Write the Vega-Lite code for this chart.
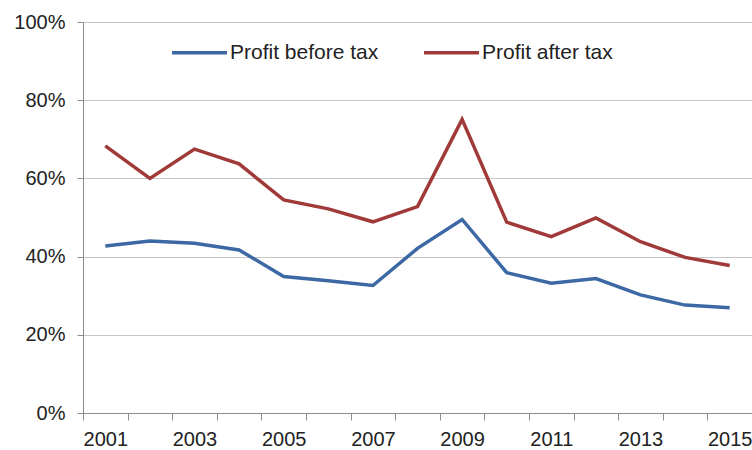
{
  "$schema": "https://vega.github.io/schema/vega-lite/v6.json",
  "width": 669,
  "height": 391,
  "autosize": {"type": "none"},
  "padding": {"left": 83, "top": 22, "right": 0, "bottom": 37},
  "background": "white",
  "config": {"view": {"stroke": null}, "font": "Liberation Sans"},
  "data": {
    "values": [
      {"year": "2001", "series": "Profit before tax", "value": 0.427},
      {"year": "2002", "series": "Profit before tax", "value": 0.440},
      {"year": "2003", "series": "Profit before tax", "value": 0.434},
      {"year": "2004", "series": "Profit before tax", "value": 0.417},
      {"year": "2005", "series": "Profit before tax", "value": 0.349},
      {"year": "2006", "series": "Profit before tax", "value": 0.338},
      {"year": "2007", "series": "Profit before tax", "value": 0.326},
      {"year": "2008", "series": "Profit before tax", "value": 0.421},
      {"year": "2009", "series": "Profit before tax", "value": 0.495},
      {"year": "2010", "series": "Profit before tax", "value": 0.359},
      {"year": "2011", "series": "Profit before tax", "value": 0.332},
      {"year": "2012", "series": "Profit before tax", "value": 0.344},
      {"year": "2013", "series": "Profit before tax", "value": 0.302},
      {"year": "2014", "series": "Profit before tax", "value": 0.276},
      {"year": "2015", "series": "Profit before tax", "value": 0.269},
      {"year": "2001", "series": "Profit after tax", "value": 0.683},
      {"year": "2002", "series": "Profit after tax", "value": 0.600},
      {"year": "2003", "series": "Profit after tax", "value": 0.675},
      {"year": "2004", "series": "Profit after tax", "value": 0.637},
      {"year": "2005", "series": "Profit after tax", "value": 0.545},
      {"year": "2006", "series": "Profit after tax", "value": 0.522},
      {"year": "2007", "series": "Profit after tax", "value": 0.489},
      {"year": "2008", "series": "Profit after tax", "value": 0.528},
      {"year": "2009", "series": "Profit after tax", "value": 0.751},
      {"year": "2010", "series": "Profit after tax", "value": 0.488},
      {"year": "2011", "series": "Profit after tax", "value": 0.451},
      {"year": "2012", "series": "Profit after tax", "value": 0.499},
      {"year": "2013", "series": "Profit after tax", "value": 0.438},
      {"year": "2014", "series": "Profit after tax", "value": 0.398},
      {"year": "2015", "series": "Profit after tax", "value": 0.377}
    ]
  },
  "mark": {"type": "line", "strokeWidth": 3.5},
  "encoding": {
    "x": {
      "field": "year",
      "type": "ordinal",
      "scale": {"type": "band", "paddingInner": 0, "paddingOuter": 0},
      "axis": {
        "title": null,
        "labelAngle": 0,
        "tickBand": "extent",
        "grid": false,
        "labelExpr": "toNumber(datum.value) % 2 == 1 ? datum.label : ''",
        "labelOverlap": false,
        "labelBound": false,
        "domainColor": "#8c8c8c",
        "tickColor": "#8c8c8c",
        "tickSize": 7,
        "labelFontSize": 20,
        "labelColor": "#222222",
        "labelPadding": 9
      }
    },
    "y": {
      "field": "value",
      "type": "quantitative",
      "scale": {"domain": [0, 1]},
      "axis": {
        "title": null,
        "values": [0, 0.2, 0.4, 0.6, 0.8, 1],
        "format": ".0%",
        "gridColor": "#c6c6c6",
        "domainColor": "#8c8c8c",
        "tickColor": "#8c8c8c",
        "tickSize": 6,
        "labelPadding": 12,
        "labelFontSize": 20,
        "labelColor": "#222222"
      }
    },
    "color": {
      "field": "series",
      "type": "nominal",
      "scale": {"domain": ["Profit before tax", "Profit after tax"], "range": ["#3C69A4", "#A03A38"]},
      "legend": {
        "orient": "none",
        "legendX": 87,
        "legendY": 1,
        "direction": "horizontal",
        "title": null,
        "symbolType": "stroke",
        "symbolSize": 3025,
        "symbolStrokeWidth": 3.5,
        "labelFontSize": 21,
        "labelColor": "#222222",
        "columnPadding": 38,
        "labelOffset": 1
      }
    }
  }
}
